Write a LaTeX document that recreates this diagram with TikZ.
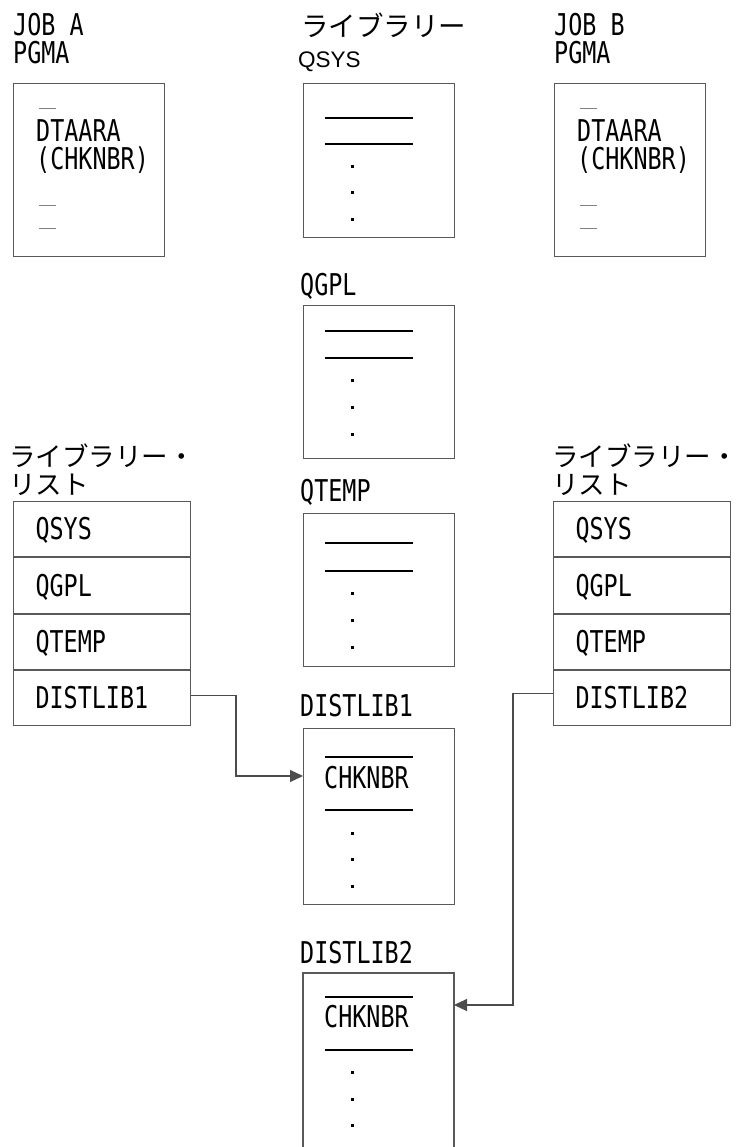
\documentclass[tikz,border=0pt]{standalone}
\usepackage{fontspec}
\setmainfont{DejaVu Sans Mono}[FakeStretch=0.78]
\newfontfamily\jpfont{Noto Sans CJK JP}
\newfontfamily\qsysfont{Liberation Sans}
\usetikzlibrary{arrows.meta,positioning}
\tikzset{txt/.style={inner sep=0pt,anchor=base west,font=\fontsize{30}{30}\selectfont},
  jtxt/.style={inner sep=0pt,anchor=base west,font=\jpfont\fontsize{27.5}{27.5}\selectfont},
  ltxt/.style={jtxt,font=\jpfont\fontsize{26.5}{26.5}\selectfont},
  libbox/.style={draw=black!65,line width=1.1pt,inner sep=0pt,minimum width=151pt,anchor=north west},
  listrow/.style={draw=black!65,line width=1.1pt,inner xsep=22pt,inner ysep=0pt,text width=133pt,
    minimum height=55.25pt,text height=21pt,text depth=0pt,align=left,font=\fontsize{30}{30}\selectfont},
  sepline/.style={line width=2pt,black},
  stmt/.style={line width=1pt,black!50},
  conn/.style={draw=black!70,line width=1.1pt,-{Triangle[length=13pt,width=12pt]}}}
\begin{document}
\begin{tikzpicture}[x=1pt,y=-1pt]
\useasboundingbox (0,0) rectangle (739,1147);
% job A program
\node[txt] (jobaT) at (13,36) {JOB A};
\node[txt] (jobaP) at (13,64) {PGMA};
\node[libbox,minimum width=151pt,minimum height=173pt] (jobabox) at (13,83) {};
\draw[stmt] (39,109) -- (56,109);
\node[txt] (jobaD) at (36,142) {DTAARA};
\node[txt] (jobaC) at (36,170) {(CHKNBR)};
\draw[stmt] (39,206) -- (56,206);
\draw[stmt] (39,229) -- (56,229);
% job B program
\node[txt] (jobbT) at (554,36) {JOB B};
\node[txt] (jobbP) at (554,64) {PGMA};
\node[libbox,minimum width=151pt,minimum height=173pt] (jobbbox) at (554,83) {};
\draw[stmt] (580,109) -- (597,109);
\node[txt] (jobbD) at (577,142) {DTAARA};
\node[txt] (jobbC) at (577,170) {(CHKNBR)};
\draw[stmt] (580,206) -- (597,206);
\draw[stmt] (580,229) -- (597,229);
% libraries
\node[jtxt] (libT) at (301,37) {ライブラリー};
\node[inner sep=0pt,anchor=base west,font=\qsysfont\fontsize{22.5}{22.5}\selectfont] (qsysT) at (298,68) {QSYS};
\node[libbox,minimum height=154pt] (qsysbox) at (303,83) {};
\draw[sepline] (325,118) -- (413,118);
\draw[sepline] (325,144) -- (413,144);
\foreach \y in {167,193,220} \fill (352,\y) +(-1.5,-1.5) rectangle +(1.5,1.5);
\node[txt] (qgplT) at (300,295) {QGPL};
\node[libbox,minimum height=153pt] (qgplbox) at (303,305) {};
\draw[sepline] (325,331) -- (413,331);
\draw[sepline] (325,358) -- (413,358);
\foreach \y in {380,407,434} \fill (352,\y) +(-1.5,-1.5) rectangle +(1.5,1.5);
\node[txt] (qtempT) at (300,501) {QTEMP};
\node[libbox,minimum height=153pt] (qtempbox) at (303,513) {};
\draw[sepline] (325,543) -- (413,543);
\draw[sepline] (325,571) -- (413,571);
\foreach \y in {593,620,647} \fill (352,\y) +(-1.5,-1.5) rectangle +(1.5,1.5);
\node[txt] (dl1T) at (300,716) {DISTLIB1};
\node[libbox,minimum height=176pt] (dl1box) at (303,728) {};
\draw[sepline] (325,757) -- (413,757);
\node[txt] (dl1chk) at (324,788) {CHKNBR};
\draw[sepline] (325,810) -- (413,810);
\foreach \y in {833,859,886} \fill (352,\y) +(-1.5,-1.5) rectangle +(1.5,1.5);
\node[txt] (dl2T) at (300,963) {DISTLIB2};
\coordinate (dl2nw) at (303,973);
\coordinate (dl2ne) at (454,973);
\draw[draw=black!65,line width=1.1pt] (dl2nw |- 0,1147) -- (dl2nw) -- (dl2ne) -- (dl2ne |- 0,1147);
\draw[sepline] (325,997) -- (413,997);
\node[txt] (dl2chk) at (324,1027) {CHKNBR};
\draw[sepline] (325,1050) -- (413,1050);
\foreach \y in {1072,1099,1125} \fill (352,\y) +(-1.5,-1.5) rectangle +(1.5,1.5);
% library lists
\node[ltxt] (llT) at (9,466) {ライブラリー・};
\node[ltxt] (llS) at (9,494) {リスト};
\node[listrow,anchor=north west] (l1a) at (13,501) {QSYS};
\node[listrow,below=0pt of l1a] (l1b) {QGPL};
\node[listrow,below=0pt of l1b] (l1c) {QTEMP};
\node[listrow,below=0pt of l1c] (l1d) {DISTLIB1};
\node[ltxt] (rlT) at (552,466) {ライブラリー・};
\node[ltxt] (rlS) at (552,494) {リスト};
\node[listrow,anchor=north west] (l2a) at (553,501) {QSYS};
\node[listrow,below=0pt of l2a] (l2b) {QGPL};
\node[listrow,below=0pt of l2b] (l2c) {QTEMP};
\node[listrow,below=0pt of l2c] (l2d) {DISTLIB2};
% connectors
\coordinate (bend1) at (236,0);
\coordinate (dl1in) at (303,776);
\coordinate (bend2) at (513,0);
\coordinate (dl2in) at (454,1005);
\draw[conn] ([yshift=3pt]l1d.east) -| (bend1 |- dl1in) -- (dl1in);
\draw[conn] ([yshift=5pt]l2d.west) -| (bend2 |- dl2in) -- (dl2in);
\end{tikzpicture}
\end{document}
